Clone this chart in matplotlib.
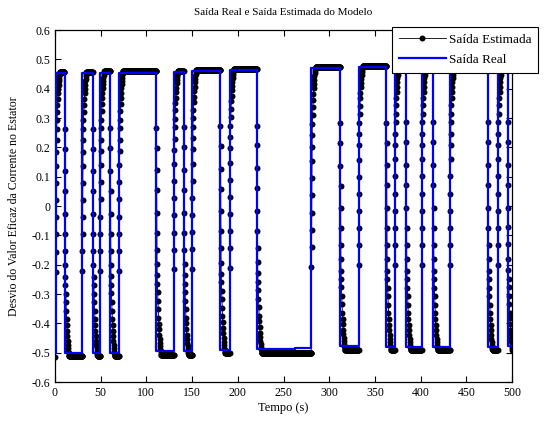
import numpy as np
import matplotlib
matplotlib.use("Agg")
import matplotlib.pyplot as plt

# ---- data ----
# breakpoints of the real output (time s) and the level that holds from each breakpoint
real_times = [0, 1, 10.5, 30, 41.5, 49.5, 60.5, 70, 111, 130, 141, 150, 181, 191, 221, 262,
              280.5, 312, 332, 362.5, 371.5, 384, 401, 413.6, 432, 473.5, 484, 495, 500]
real_levels = [-0.50, 0.452, -0.500, 0.452, -0.500, 0.455, -0.500, 0.455, -0.495, 0.457, -0.495,
               0.460, -0.490, 0.463, -0.487, -0.483, 0.470, -0.478, 0.473, -0.480, 0.475,
               -0.480, 0.475, -0.480, 0.475, -0.480, 0.475, -0.478, -0.478]
# estimated output: level reached after each breakpoint
est_levels = [-0.515, 0.457, -0.512, 0.457, -0.512, 0.460, -0.512, 0.460, -0.507, 0.462, -0.507,
              0.465, -0.502, 0.468, -0.500, -0.500, 0.475, -0.490, 0.478, -0.492, 0.480,
              -0.492, 0.480, -0.492, 0.480, -0.492, 0.480, -0.490, -0.490]
# shape of the estimate after a falling / rising edge (time offset s, fraction done)
fall_dt = [0.0, 0.1, 0.2, 0.3, 0.4, 0.5, 0.6, 0.7, 0.8, 1.0, 1.3, 1.6, 1.9, 2.2, 2.5, 2.8,
           3.1, 3.4, 3.7, 4.0, 4.3, 4.6, 4.9, 5.2]
fall_frac = [0.20, 0.27, 0.35, 0.42, 0.50, 0.57, 0.63, 0.68, 0.72, 0.75, 0.78, 0.81, 0.84,
             0.87, 0.89, 0.91, 0.93, 0.945, 0.96, 0.97, 0.98, 0.988, 0.995, 1.0]
rise_dt = [0.0, 0.1, 0.2, 0.3, 0.4, 0.5, 0.6, 0.7, 0.8, 0.9, 1.2, 1.5, 1.8, 2.1, 2.4, 2.7,
           3.0, 3.3, 3.6, 3.9, 4.2, 4.5]
rise_frac = [0.30, 0.37, 0.43, 0.49, 0.55, 0.61, 0.67, 0.72, 0.76, 0.80, 0.83, 0.86, 0.885,
             0.905, 0.925, 0.94, 0.955, 0.967, 0.977, 0.986, 0.993, 1.0]
flat_step = 0.25

# ---- build the estimated series ----
est_t, est_y = [0.0], [est_levels[0]]
cur = est_levels[0]
for i in range(1, len(real_times) - 1):
    t0, t1 = real_times[i], real_times[i + 1]
    target = est_levels[i]
    start = cur
    if target > start + 0.3:
        dts, fr = rise_dt, rise_frac
    elif target < start - 0.3:
        dts, fr = fall_dt, fall_frac
    else:
        dts, fr = [0.0], [1.0]
    last = t0
    for d, f in zip(dts, fr):
        if t0 + d >= t1:
            break
        est_t.append(t0 + d)
        est_y.append(start + f * (target - start))
        last = t0 + d
    tt = last + flat_step
    while tt < t1:
        est_t.append(tt)
        est_y.append(target)
        tt += flat_step
    cur = target
est_t.append(500.0)
est_y.append(cur)

plt.rcParams['font.family'] = ['Liberation Serif', 'DejaVu Serif']
plt.rcParams['axes.unicode_minus'] = False

fig = plt.figure(figsize=(5.49, 4.21), dpi=100)
ax = fig.add_axes([0.100, 0.0926, 0.833, 0.836])

ax.plot(est_t, est_y, color='black', lw=0.6, marker='o', markersize=4.3,
        markeredgewidth=0, label='Saída Estimada', zorder=2)
ax.plot(real_times, real_levels, color='#0000ff', lw=1.6, drawstyle='steps-post',
        label='Saída Real', zorder=3)

ax.set_xlim(0, 500)
ax.set_ylim(-0.6, 0.6)
ax.set_xticks(np.arange(0, 501, 50))
yt = np.round(np.arange(-0.6, 0.61, 0.1), 1)
ax.set_yticks(yt)
ax.set_yticklabels(['0' if abs(v) < 1e-9 else f'{v:g}' for v in yt])
ax.tick_params(direction='in', top=True, right=True, length=4, width=0.8, labelsize=8.5)
for s in ax.spines.values():
    s.set_linewidth(0.9)

ax.set_title('Saída Real e Saída Estimada do Modelo', fontsize=8, pad=11)
ax.set_xlabel('Tempo (s)', fontsize=9, labelpad=2)
ax.set_ylabel('Desvio do Valor Eficaz da Corrente no Estator', fontsize=8.5, labelpad=8)

leg = fig.legend(loc='upper left', bbox_to_anchor=(392 / 549, 1 - 27 / 421),
                 fontsize=9.5, frameon=True, fancybox=False, framealpha=1,
                 edgecolor='black', handlelength=3.6, borderpad=0.5, labelspacing=0.6,
                 handletextpad=0.2, borderaxespad=0)
leg.get_frame().set_linewidth(0.8)

fig.savefig('out.png', dpi=100)
